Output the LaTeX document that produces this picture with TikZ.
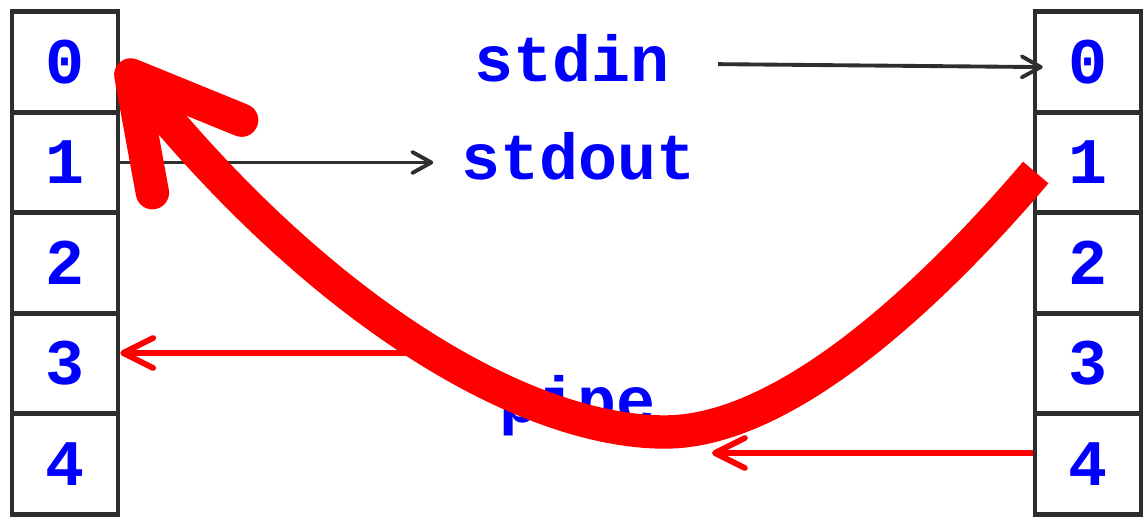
\documentclass[tikz,border=0pt]{standalone}
\usepackage{fontspec}
\setmonofont{Liberation Mono}
\usetikzlibrary{arrows.meta}
\definecolor{fdline}{HTML}{2E2E2E}
\newcommand{\fdfont}{\fontsize{37}{44}\selectfont\ttfamily\bfseries}

\tikzset{
  fdbox/.style={rectangle,draw=fdline,line width=2.6pt,fill=white,
    minimum width=2.12cm,minimum height=2.01cm,inner sep=0pt,
    font=\fdfont,text=blue},
  fdname/.style={font=\fdfont,text=blue,anchor=base},
  blkarrow/.style={draw=fdline,line width=2.2pt,
    -{Straight Barb[length=0.38cm,width=0.42cm,round]}},
  redarrow/.style={draw=red,line width=3.3pt,
    -{Straight Barb[length=0.6cm,width=0.6cm,round]}},
  pipeline/.style={draw=red,line width=19pt,
    -{Straight Barb[length=2.1cm,width=2.3cm,round]}}
}

\begin{document}
\begin{tikzpicture}[x=0.02cm,y=-0.02cm]

\useasboundingbox (0,0) rectangle (1143,520);

\foreach \i in {0,...,4} {
  \node[fdbox] (l\i) at (65,{62+100.5*\i}) {\i};
  \node[fdbox] (r\i) at (1088,{62+100.5*\i}) {\i};
}

\node[fdname] (stdin) at (572,82) {stdin};
\node[fdname] (stdout) at (579,180) {stdout};
\node[fdname] (pipe) at (578,422) {pipe};

\coordinate (pw) at (415,353);
\coordinate (pe) at (712,453);

\draw[blkarrow,shorten <=0.85cm,shorten >=-0.2cm]
  ([yshift=-0.1cm]stdin.east) -- ([yshift=-0.1cm]r0.west);
\draw[blkarrow,shorten >=0.45cm] (l1.east) -- (l1.east -| stdout.west);

\draw[redarrow] (pw) -- (pw -| l3.east);
\draw[redarrow] (pe -| r4.west) -- (pe);

% the pipe, from 1 on the right back to 0 on the left
\draw[pipeline] ([shift={(0.06cm,-0.2cm)}]r1.west) .. controls (940,285) and (790,432) .. (665,432)
  .. controls (530,432) and (330,320) .. (l0.east);

\end{tikzpicture}
\end{document}
